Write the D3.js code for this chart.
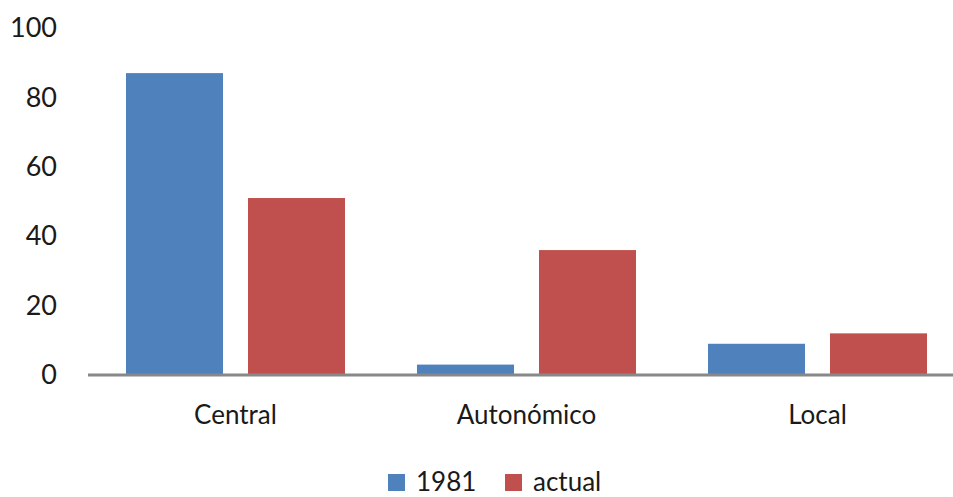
<!DOCTYPE html>
<html>
<head>
<meta charset="utf-8">
<script src="https://cdn.jsdelivr.net/npm/d3@7"></script>
<style>
  html, body { margin: 0; padding: 0; background: #fff; }
  svg { display: block; }
  text { font-family: Lato, "Open Sans", sans-serif; fill: #1a1a1a; }
</style>
</head>
<body>
<svg id="chart" width="953" height="497"></svg>
<script>
// Distribution of public spending by level of government (%)
const categories = ["Central", "Autonómico", "Local"];
const seriesNames = ["1981", "actual"];
const values1981 = [87, 3, 9];
const valuesActual = [51, 36, 12];
const yTicks = [0, 20, 40, 60, 80, 100];
const colors = ["#4F81BD", "#C0504D"];

const seriesValues = [values1981, valuesActual];
const svg = d3.select("#chart");

const y = d3.scaleLinear().domain([0, 100]).range([375, 28]);
const x = d3.scaleBand().domain(categories).range([90, 963]);
const xInner = d3.scaleBand().domain(seriesNames).range([36, 255]).paddingInner(0.205);

// Bars
const groups = svg.append("g").selectAll("g")
  .data(categories)
  .join("g")
  .attr("transform", d => `translate(${x(d)},0)`);

groups.selectAll("rect")
  .data((d, i) => seriesNames.map((s, j) => ({ s, v: seriesValues[j][i], c: colors[j] })))
  .join("rect")
  .attr("x", d => xInner(d.s))
  .attr("width", xInner.bandwidth())
  .attr("y", d => y(d.v))
  .attr("height", d => y(0) - y(d.v))
  .attr("fill", d => d.c);

// Category axis baseline
svg.append("line")
  .attr("x1", 88).attr("x2", 953)
  .attr("y1", y(0)).attr("y2", y(0))
  .attr("stroke", "#888888")
  .attr("stroke-width", 3);

// Value axis labels
const yAxis = d3.axisLeft(y).tickValues(yTicks).tickSize(0).tickPadding(0);
const yg = svg.append("g").attr("transform", "translate(57,0)").call(yAxis);
yg.select(".domain").remove();
yg.selectAll("text")
  .attr("font-size", 27)
  .attr("font-family", "Lato, sans-serif")
  .attr("fill", "#1a1a1a");

// Category labels
const xAxis = d3.axisBottom(x).tickSize(0).tickPadding(0);
const xg = svg.append("g").attr("transform", "translate(0,406)").call(xAxis);
xg.select(".domain").remove();
xg.selectAll("text")
  .attr("font-size", 26)
  .attr("font-family", "Lato, sans-serif")
  .attr("fill", "#1a1a1a")
  .attr("dy", "0.71em");

// Legend
const legendItems = [
  { label: "1981", color: colors[0], x: 388 },
  { label: "actual", color: colors[1], x: 505 }
];
const legend = svg.append("g");
const li = legend.selectAll("g").data(legendItems).join("g")
  .attr("transform", d => `translate(${d.x},474)`);
li.append("rect").attr("width", 17).attr("height", 17).attr("fill", d => d.color);
li.append("text")
  .attr("x", 28).attr("y", 17)
  .attr("font-size", 26)
  .text(d => d.label);
</script>
</body>
</html>
